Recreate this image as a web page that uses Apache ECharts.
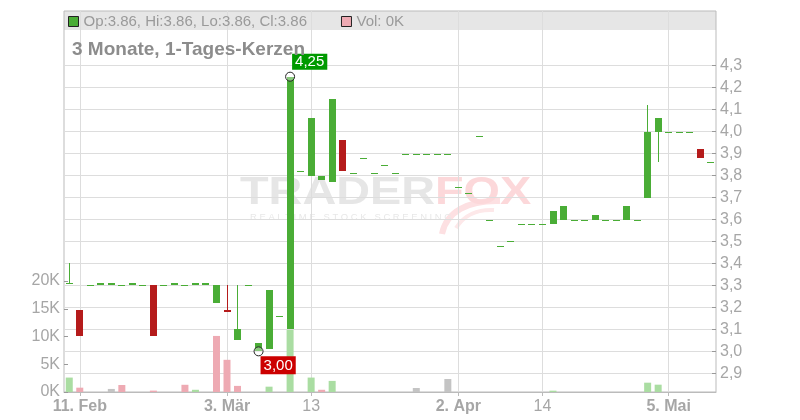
<!DOCTYPE html>
<html><head><meta charset="utf-8">
<script src="https://cdn.jsdelivr.net/npm/echarts@6/dist/echarts.min.js"></script>
<style>html,body{margin:0;padding:0;background:#fff}#c{width:800px;height:420px}</style>
</head><body><div id="c"></div>
<script>
const dates = ['2025-02-10','2025-02-11','2025-02-12','2025-02-13','2025-02-14','2025-02-17','2025-02-18','2025-02-19','2025-02-20','2025-02-21',
'2025-02-24','2025-02-25','2025-02-26','2025-02-27','2025-02-28','2025-03-03','2025-03-04','2025-03-05','2025-03-06','2025-03-07',
'2025-03-10','2025-03-11','2025-03-12','2025-03-13','2025-03-14','2025-03-17','2025-03-18','2025-03-19','2025-03-20','2025-03-21',
'2025-03-24','2025-03-25','2025-03-26','2025-03-27','2025-03-28','2025-03-31','2025-04-01','2025-04-02','2025-04-03','2025-04-04',
'2025-04-07','2025-04-08','2025-04-09','2025-04-10','2025-04-11','2025-04-14','2025-04-15','2025-04-16','2025-04-17','2025-04-22',
'2025-04-23','2025-04-24','2025-04-25','2025-04-28','2025-04-29','2025-04-30','2025-05-02','2025-05-05','2025-05-06','2025-05-07',
'2025-05-08','2025-05-09'];
const open = [3.31,3.19,3.30,3.30,3.30,3.30,3.30,3.30,3.30,3.30,3.30,3.30,3.30,3.30,3.22,
3.19,3.05,3.30,3.00,3.01,3.16,3.10,3.82,3.80,3.78,3.77,3.96,3.81,3.88,3.81,3.85,3.81,
3.90,3.90,3.90,3.90,3.90,
3.75,3.72,3.98,3.60,3.48,3.50,3.58,3.58,3.58,
3.58,3.60,3.60,3.60,3.60,3.60,3.60,3.60,3.60,
3.70,4.00,4.00,4.00,4.00,3.92,3.86];
const high = [3.40,3.19,3.30,3.31,3.31,3.30,3.31,3.30,3.30,3.30,3.31,3.30,3.31,3.31,3.30,
3.30,3.30,3.30,3.04,3.28,3.16,4.25,3.82,4.06,3.80,4.15,3.96,3.81,3.88,3.81,3.85,3.81,
3.90,3.90,3.90,3.90,3.90,
3.75,3.72,3.98,3.60,3.48,3.50,3.58,3.58,3.58,
3.64,3.66,3.60,3.60,3.62,3.60,3.60,3.66,3.60,
4.12,4.06,4.00,4.00,4.00,3.92,3.86];
const low = [3.31,3.07,3.30,3.30,3.30,3.30,3.30,3.30,3.07,3.30,3.30,3.30,3.30,3.30,3.22,
3.18,3.05,3.30,3.00,3.01,3.16,3.10,3.82,3.80,3.78,3.77,3.82,3.81,3.88,3.81,3.85,3.81,
3.90,3.90,3.90,3.90,3.90,
3.75,3.72,3.98,3.60,3.48,3.50,3.58,3.58,3.58,
3.58,3.60,3.60,3.60,3.60,3.60,3.60,3.60,3.60,
3.70,3.86,4.00,4.00,4.00,3.88,3.86];
const close = [3.31,3.07,3.30,3.31,3.31,3.30,3.31,3.30,3.07,3.30,3.31,3.30,3.31,3.31,3.30,
3.18,3.10,3.30,3.04,3.28,3.16,4.25,3.82,4.06,3.80,4.15,3.82,3.81,3.88,3.81,3.85,3.81,
3.90,3.90,3.90,3.90,3.90,
3.75,3.72,3.98,3.60,3.48,3.50,3.58,3.58,3.58,
3.64,3.66,3.60,3.60,3.62,3.60,3.60,3.66,3.60,
4.00,4.06,4.00,4.00,4.00,3.88,3.86];
const volume = [2600,780,0,0,550,1260,0,0,250,0,0,1300,400,0,10100,
5800,1100,0,0,960,0,11200,0,2600,400,2000,0,0,0,0,0,0,
0,720,0,0,2340,
0,0,0,0,0,0,0,0,0,
240,0,0,0,0,0,0,0,0,
1680,1320,0,0,0,0,0];
const tickIdx = [1,15,23,37,45,57];
const tickText = ['11. Feb','3. Mär','13','2. Apr','14','5. Mai'];
const tickBold = [true,true,false,true,false,true];

const UP='#4aad36', DOWN='#b51b1b';
const VOL_UP='#aadda2', VOL_DOWN='#eeaab3', VOL_FLAT='#c4c4c4';
const GRIDC='#dddddd', BORDER='#bbbbbb', LABEL='#a6a6a6';

const n = dates.length-1;
const candleData = dates.map((d,i)=>[i, open[i], close[i], low[i], high[i]]);
const volData = volume.map((v,i)=>({value:v,itemStyle:{color:
  (i===0||close[i]>close[i-1])?VOL_UP:(close[i]<close[i-1]?VOL_DOWN:VOL_FLAT)}}));
const f2 = v=>v.toFixed(2);
const ohlcName = 'Op:'+f2(open[n])+', Hi:'+f2(high[n])+', Lo:'+f2(low[n])+', Cl:'+f2(close[n]);
const volName = 'Vol: '+Math.round(volume[n]/1000)+'K';
let hiI=0, loI=0;
high.forEach((v,i)=>{if(v>high[hiI])hiI=i;});
low.forEach((v,i)=>{if(v<low[loI])loI=i;});
const comma = v=>v.toFixed(2).replace('.',',');

function renderCandle(params, api){
  const i=api.value(0), o=api.value(1), c=api.value(2), l=api.value(3), h=api.value(4);
  const pO=api.coord([i,o]), pC=api.coord([i,c]), pL=api.coord([i,l]), pH=api.coord([i,h]);
  const col = c<o ? DOWN : UP;
  const bw = 7;
  const x0 = Math.round(pO[0]-bw/2);
  const xc = x0 + bw/2;
  const top = Math.round(Math.min(pO[1],pC[1]));
  const bot = Math.round(Math.max(pO[1],pC[1]));
  const ht = Math.max(bot-top,1);
  const children = [];
  if (pH[1] < top - 0.5 || pL[1] > top + ht + 0.5) {
    children.push({type:'rect',shape:{x:xc-0.5,y:Math.round(pH[1]),width:1,height:Math.max(Math.round(pL[1])-Math.round(pH[1]),1)},
      style:{fill:col}});
  }
  children.push({type:'rect',shape:{x:x0,y:top,width:bw,height:ht},style:{fill:col}});
  return {type:'group',children};
}

const L=64, W=652, B=28;
const chart = echarts.init(document.getElementById('c'), null, {renderer:'canvas'});
const hiddenCat = gi=>({type:'category',gridIndex:gi,data:dates,show:false,boundaryGap:true});
const hiddenVal = gi=>({type:'value',gridIndex:gi,show:false,min:0,max:1,splitLine:{show:false}});
const option = {
  animation:false,
  textStyle:{fontFamily:'"Liberation Sans", Arial, sans-serif'},
  title:{text:'3 Monate, 1-Tages-Kerzen',left:72,top:40,padding:0,
    textStyle:{fontSize:19,fontWeight:'bold',color:'#8c8c8c'}},
  legend:{left:68,top:14,padding:0,itemGap:34,itemWidth:10,itemHeight:10,icon:'rect',selectedMode:false,
    textStyle:{fontSize:15,color:'#9a9a9a'},
    data:[{name:ohlcName,itemStyle:{color:UP,borderColor:'#222',borderWidth:1}},
          {name:volName,itemStyle:{color:VOL_DOWN,borderColor:'#222',borderWidth:1}}]},
  graphic:[
    {type:'bezierCurve',z:-1,silent:true,
      shape:{x1:442,y1:234,cpx1:446,cpy1:212,cpx2:468,cpy2:200,x2:500,y2:201},
      style:{stroke:'#fde0e2',lineWidth:6,fill:null}},
    {type:'bezierCurve',z:-1,silent:true,
      shape:{x1:456,y1:228,cpx1:464,cpy1:215,cpx2:478,cpy2:209,x2:494,y2:210},
      style:{stroke:'#fde8e9',lineWidth:4,fill:null}},
    {type:'text',left:240,top:174,z:-1,scaleX:1.2,silent:true,
      style:{text:'{a|TRADER}{b|FOX}',rich:{a:{fontSize:39,fontWeight:'bold',fill:'#e6e6e6',fontFamily:'"Liberation Sans", Arial'},
        b:{fontSize:39,fontWeight:'bold',fill:'#fcd8da',fontFamily:'"Liberation Sans", Arial'}}}},
    {type:'text',left:250,top:213,z:-1,silent:true,scaleX:1.05,
      style:{text:'R E A L T I M E   S T O C K   S C R E E N I N G',fontSize:9,fill:'#e8e8e8',fontFamily:'"Liberation Sans", Arial'}}],
  grid:[
    {left:L,width:W,top:11,height:19,show:true,backgroundColor:'#e6e6e6',borderWidth:0},
    {left:L,width:W,top:11,bottom:B,show:true,backgroundColor:'transparent',borderColor:BORDER,borderWidth:1},
    {left:L,width:W,top:65.7,bottom:B},
    {left:L,width:W,top:281,bottom:B}
  ],
  xAxis:[
    hiddenCat(0),
    {type:'category',gridIndex:1,data:dates,boundaryGap:true,
      axisLine:{show:true,lineStyle:{color:BORDER}},
      axisTick:{show:true,alignWithLabel:true,length:4,interval:i=>tickIdx.includes(i),lineStyle:{color:BORDER}},
      axisLabel:{interval:i=>tickIdx.includes(i),margin:7,
        formatter:(v,i)=>{const k=tickIdx.indexOf(i);return k<0?'':(tickBold[k]?'{b|'+tickText[k]+'}':'{n|'+tickText[k]+'}');},
        rich:{b:{fontSize:16,fontWeight:'bold',color:LABEL},n:{fontSize:16,color:LABEL}}},
      splitLine:{show:false}},
    hiddenCat(2), hiddenCat(3)
  ],
  yAxis:[
    hiddenVal(0), hiddenVal(1),
    {type:'value',gridIndex:2,position:'right',min:2.815,max:4.3,splitNumber:15,minInterval:0.1,maxInterval:0.1,
      axisLine:{show:false},
      axisTick:{show:true,inside:true,length:4,lineStyle:{color:'#999'}},
      axisLabel:{margin:4,fontSize:16,color:LABEL,showMinLabel:false,formatter:v=>v.toFixed(1).replace('.',',')},
      splitLine:{show:true,lineStyle:{color:GRIDC}}},
    {type:'value',gridIndex:3,position:'left',min:0,max:20000,interval:5000,
      axisLine:{show:false},
      axisTick:{show:true,inside:true,length:4,lineStyle:{color:'#999'}},
      axisLabel:{margin:4,fontSize:16,color:LABEL,formatter:v=>(v/1000)+'K'},
      splitLine:{show:false}}
  ],
  series:[
    {type:'line',xAxisIndex:1,yAxisIndex:1,data:[],z:1,silent:true,
      markLine:{silent:true,z:1,symbol:'none',label:{show:false},animation:false,
        lineStyle:{color:GRIDC,type:'solid',width:1},
        data:tickIdx.map(i=>({xAxis:i}))}},
    {type:'custom',name:ohlcName,xAxisIndex:2,yAxisIndex:2,data:candleData,z:2,
      encode:{x:0,y:[1,2,3,4]},renderItem:renderCandle,itemStyle:{color:UP},
      emphasis:{disabled:true},clip:false,
      markPoint:{symbol:'circle',symbolSize:9,animation:false,
        itemStyle:{color:'rgba(255,255,255,0.35)',borderColor:'#222',borderWidth:1},
        data:[
          {coord:[hiI,high[hiI]],value:high[hiI],
            label:{show:true,position:[7,-18],formatter:p=>comma(p.value),color:'#fff',fontSize:15,
              backgroundColor:'#009a00',padding:[1,3,0,3],lineHeight:15}},
          {coord:[loI,low[loI]],value:low[loI],
            label:{show:true,position:[7,10],formatter:p=>comma(p.value),color:'#fff',fontSize:15,
              backgroundColor:'#cc0000',padding:[2,3,1,3],lineHeight:15}}
        ]}},
    {type:'bar',name:volName,xAxisIndex:3,yAxisIndex:3,data:volData,barWidth:7,z:3,
      itemStyle:{color:VOL_DOWN},emphasis:{disabled:true}}
  ]
};
chart.setOption(option);
</script></body></html>
